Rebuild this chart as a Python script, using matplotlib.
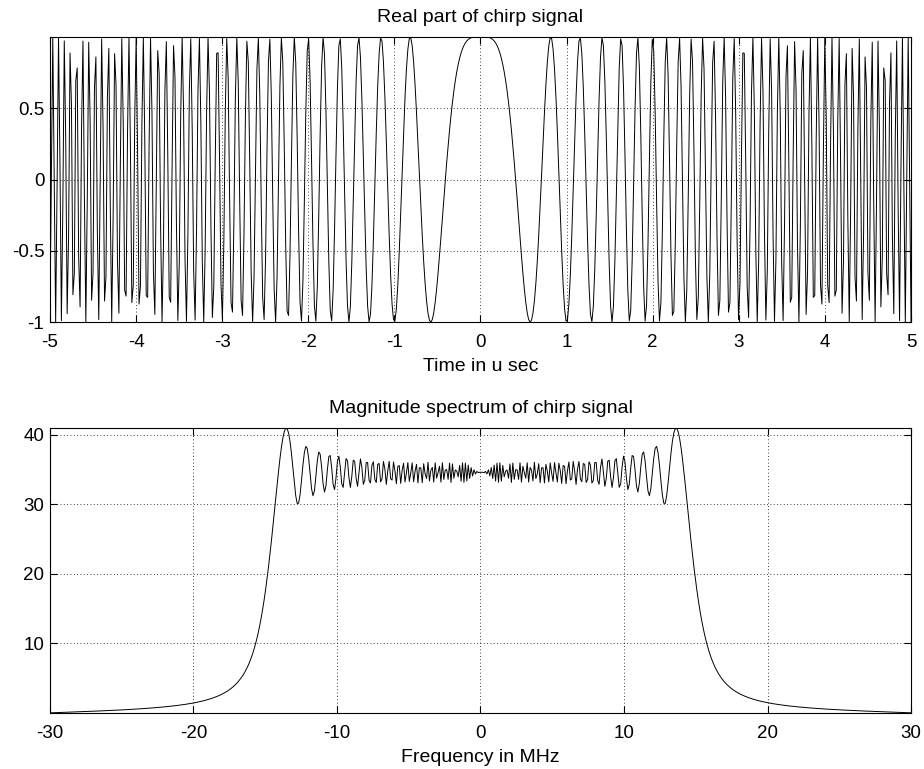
import numpy as np
import matplotlib
matplotlib.use('Agg')
import matplotlib.pyplot as plt

matplotlib.rcParams['font.family'] = ['Liberation Sans', 'DejaVu Sans']
matplotlib.rcParams['axes.unicode_minus'] = False

# chirp parameters
PULSE_WIDTH_US = 10.0   # time axis runs -5 .. 5 us
BANDWIDTH_MHZ = 30.0    # spectrum is flat to about +-15 MHz
N_SAMPLES = 600         # 60 MHz sampling -> frequency axis -30 .. 30

time_ticks = [-5, -4, -3, -2, -1, 0, 1, 2, 3, 4, 5]
real_ticks = [-1, -0.5, 0, 0.5]
real_labels = ['-1', '-0.5', '0', '0.5']
freq_ticks = [-30, -20, -10, 0, 10, 20, 30]
mag_ticks = [10, 20, 30, 40]

# LFM pulse, sampled like the original
t = np.linspace(-PULSE_WIDTH_US / 2, PULSE_WIDTH_US / 2, N_SAMPLES)
k = BANDWIDTH_MHZ / PULSE_WIDTH_US
chirp = np.exp(1j * np.pi * k * t ** 2)
fs = N_SAMPLES / PULSE_WIDTH_US
freq = np.linspace(-fs / 2, fs / 2, N_SAMPLES)
spectrum = np.abs(np.fft.fftshift(np.fft.fft(chirp)))

FS = 13.5


def matlab_axes(ax):
    ax.tick_params(direction='in', top=True, right=True, length=5,
                   labelsize=FS, width=0.8)
    ax.tick_params(axis='x', pad=8.5)
    ax.tick_params(axis='y', pad=4)
    ax.grid(True, linestyle=(0, (1, 3)), color='black', linewidth=0.6)
    for s in ax.spines.values():
        s.set_linewidth(0.8)


fig = plt.figure(figsize=(9.24, 7.69), dpi=100)

ax1 = fig.add_axes([0.054, 0.581, 0.932, 0.371])
ax1.plot(t, chirp.real, color='black', linewidth=0.7)
ax1.set_xlim(-5, 5)
ax1.set_ylim(chirp.real.min(), chirp.real.max())
ax1.set_xticks(time_ticks)
ax1.set_yticks(real_ticks)
ax1.set_yticklabels(real_labels)
ax1.set_title('Real part of chirp signal', fontsize=14, pad=11)
ax1.set_xlabel('Time in u sec', fontsize=14, labelpad=5)
matlab_axes(ax1)

ax2 = fig.add_axes([0.054, 0.073, 0.932, 0.370])
ax2.plot(freq, spectrum, color='black', linewidth=0.7)
ax2.set_xlim(-30, 30)
ax2.set_ylim(spectrum.min(), spectrum.max())
ax2.set_xticks(freq_ticks)
ax2.set_yticks(mag_ticks)
ax2.set_title('Magnitude spectrum of chirp signal', fontsize=14, pad=11)
ax2.set_xlabel('Frequency in MHz', fontsize=14, labelpad=5)
matlab_axes(ax2)

fig.savefig('out.png', dpi=100)
